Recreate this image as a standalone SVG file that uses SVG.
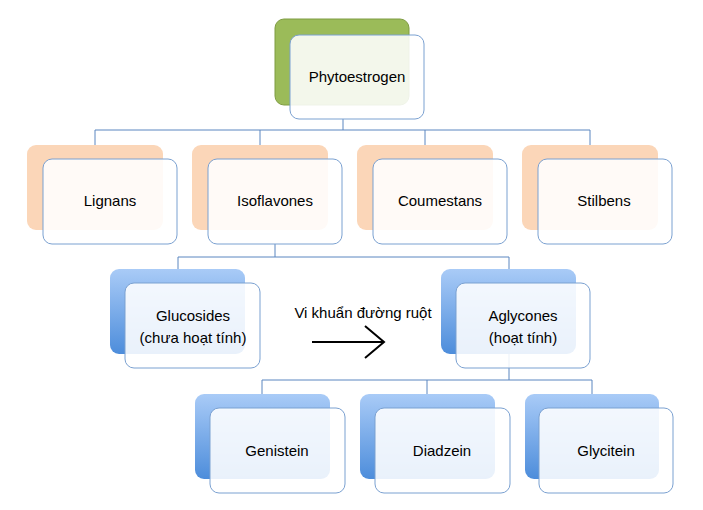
<svg xmlns="http://www.w3.org/2000/svg" width="703" height="510" viewBox="0 0 703 510">
<defs>
<linearGradient id="gb" x1="0" y1="0" x2="0" y2="1">
<stop offset="0" stop-color="#a9cbf7"/>
<stop offset="1" stop-color="#4d8ddb"/>
</linearGradient>
<marker id="ah" viewBox="0 0 24 36" markerWidth="24" markerHeight="36" refX="21" refY="18" orient="auto" markerUnits="userSpaceOnUse">
<path d="M2,2 L21,18 L2,34" fill="none" stroke="#000" stroke-width="2"/>
</marker>
</defs>
<style>
.green{fill:#9bbb59;stroke:#7f9c43;stroke-width:1}
.orange{fill:#fbd6b8;stroke:none}
.blue{fill:url(#gb);stroke:none}
.front{fill:#ffffff;fill-opacity:0.88;stroke:#7ba1d1;stroke-width:1}
.conn{fill:none;stroke:#5b86c0;stroke-width:1}
text{font-family:"Liberation Sans",Arial,sans-serif;font-size:15px;fill:#000;text-anchor:middle}
</style>
<rect width="703" height="510" fill="#ffffff"/>
<g id="connectors">
<path class="conn" d="M343,119 V130 M95,130 H590 M95,130 V146 M260,130 V146 M425,130 V146 M590,130 V146"/>
<path class="conn" d="M275,244 V257 M178,257 H509 M178,257 V270 M509,257 V270"/>
<path class="conn" d="M509,354 V380 M262,380 H592 M262,380 V395 M427,380 V395 M592,380 V395"/>
</g>
<g id="phytoestrogen">
<rect class="green" x="275" y="19" width="134" height="86" rx="9"/>
<rect class="front" x="290" y="35" width="134" height="84" rx="9"/>
<text x="357" y="82">Phytoestrogen</text>
</g>
<g id="lignans">
<rect class="orange" x="27" y="145" width="136" height="85" rx="9"/>
<rect class="front" x="43" y="159" width="134" height="85" rx="9"/>
<text x="110" y="206">Lignans</text>
</g>
<g id="isoflavones">
<rect class="orange" x="192" y="145" width="136" height="85" rx="9"/>
<rect class="front" x="208" y="159" width="134" height="85" rx="9"/>
<text x="275" y="206">Isoflavones</text>
</g>
<g id="coumestans">
<rect class="orange" x="357" y="145" width="136" height="85" rx="9"/>
<rect class="front" x="373" y="159" width="134" height="85" rx="9"/>
<text x="440" y="206">Coumestans</text>
</g>
<g id="stilbens">
<rect class="orange" x="522" y="145" width="136" height="85" rx="9"/>
<rect class="front" x="538" y="159" width="134" height="85" rx="9"/>
<text x="604" y="206">Stilbens</text>
</g>
<g id="glucosides">
<rect class="blue" x="110" y="269" width="135" height="85" rx="9"/>
<rect class="front" x="125" y="283" width="135" height="85" rx="9"/>
<text x="193" y="321">Glucosides</text>
<text x="193" y="343">(chưa hoạt tính)</text>
</g>
<g id="aglycones">
<rect class="blue" x="441" y="269" width="135" height="85" rx="9"/>
<rect class="front" x="456" y="283" width="134" height="85" rx="9"/>
<text x="523" y="321">Aglycones</text>
<text x="523" y="343">(hoạt tính)</text>
</g>
<g id="transform">
<text x="363" y="318">Vi khuẩn đường ruột</text>
<line x1="312" y1="342" x2="384" y2="342" stroke="#000" stroke-width="2" marker-end="url(#ah)"/>
</g>
<g id="genistein">
<rect class="blue" x="195" y="394" width="135" height="85" rx="9"/>
<rect class="front" x="210" y="408" width="135" height="85" rx="9"/>
<text x="277" y="456">Genistein</text>
</g>
<g id="diadzein">
<rect class="blue" x="360" y="394" width="135" height="85" rx="9"/>
<rect class="front" x="375" y="408" width="135" height="85" rx="9"/>
<text x="442" y="456">Diadzein</text>
</g>
<g id="glycitein">
<rect class="blue" x="525" y="394" width="134" height="85" rx="9"/>
<rect class="front" x="539" y="408" width="134" height="85" rx="9"/>
<text x="606" y="456">Glycitein</text>
</g>
</svg>
